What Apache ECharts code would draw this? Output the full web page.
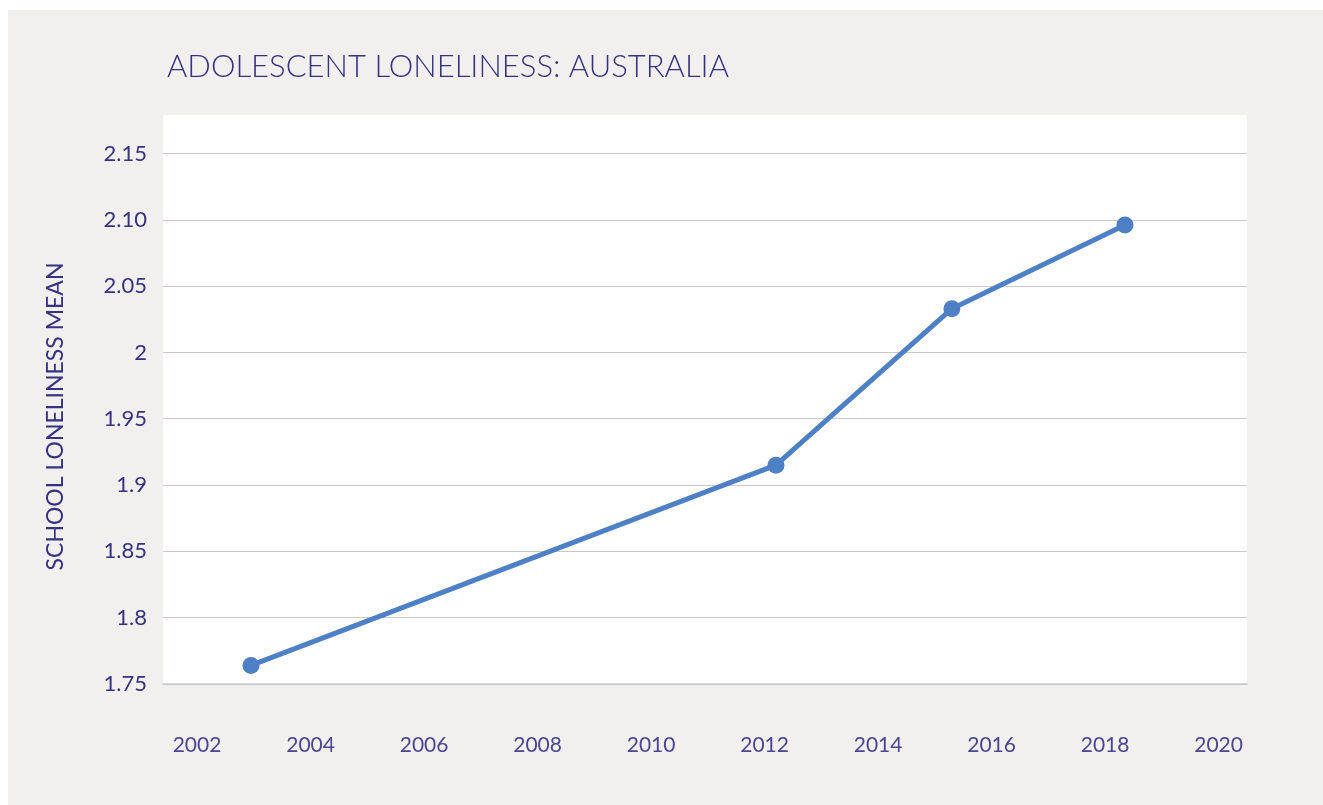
<!DOCTYPE html>
<html>
<head>
<meta charset="utf-8">
<title>Adolescent Loneliness: Australia</title>
<script src="https://cdn.jsdelivr.net/npm/echarts@6/dist/echarts.min.js"></script>
<style>
  html, body { margin: 0; padding: 0; background: #ffffff; }
  #panel {
    position: absolute; left: 8px; top: 10px;
    width: 1315px; height: 795px;
    background: #f1f0ef;
  }
</style>
</head>
<body>
<div id="panel"></div>
<script>
// Survey years (fractional positions on the time scale) and school loneliness means
const surveyYears = [2002.95, 2012.2, 2015.3, 2018.35];
const lonelinessMean = [1.764, 1.915, 2.033, 2.096];

// Tick values and their printed labels
const yearTicks = [2002, 2004, 2006, 2008, 2010, 2012, 2014, 2016, 2018, 2020];
const meanTicks = [1.75, 1.8, 1.85, 1.9, 1.95, 2, 2.05, 2.1, 2.15];
const meanTickLabels = ['1.75', '1.8', '1.85', '1.9', '1.95', '2', '2.05', '2.10', '2.15'];

const chart = echarts.init(document.getElementById('panel'), null, { renderer: 'canvas' });

const ink = '#37317f';
const labelInk = '#4d4590';

chart.setOption({
  backgroundColor: 'transparent',
  animation: false,
  title: {
    text: 'ADOLESCENT LONELINESS: AUSTRALIA',
    left: 154,
    top: 36,
    textStyle: {
      fontFamily: 'Lato',
      fontWeight: 300,
      fontSize: 31,
      color: ink
    }
  },
  grid: {
    left: 155,
    right: 76,
    top: 105,
    bottom: 121,
    show: true,
    backgroundColor: '#ffffff',
    borderWidth: 0
  },
  xAxis: {
    type: 'value',
    min: 2001.4,
    max: 2020.5,
    splitLine: { show: false },
    axisTick: { show: false },
    axisLine: { show: true, lineStyle: { color: '#c6cad3', width: 1.5 } },
    axisLabel: {
      customValues: yearTicks,
      formatter: v => String(Math.round(v)),
      margin: 51,
      fontFamily: 'Lato',
      fontSize: 21,
      color: labelInk
    }
  },
  yAxis: {
    type: 'value',
    min: 1.75,
    max: 2.179,
    name: 'SCHOOL LONELINESS MEAN',
    nameLocation: 'middle',
    nameRotate: 90,
    nameGap: 96,
    nameTextStyle: {
      fontFamily: 'Lato',
      fontWeight: 400,
      fontSize: 23,
      color: ink,
      padding: [0, 34, 0, 0]
    },
    axisLine: { show: false },
    axisTick: { show: false },
    splitLine: {
      show: true,
      showMaxLine: false,
      lineStyle: { color: '#c9c9cb', width: 1 }
    },
    interval: 0.05,
    axisLabel: {
      customValues: meanTicks,
      formatter: v => {
        const i = meanTicks.findIndex(t => Math.abs(t - v) < 1e-6);
        return i >= 0 ? meanTickLabels[i] : '';
      },
      margin: 16,
      fontFamily: 'Lato',
      fontSize: 22,
      color: ink
    }
  },
  series: [{
    type: 'line',
    data: surveyYears.map((y, i) => [y, lonelinessMean[i]]),
    symbol: 'circle',
    symbolSize: 17,
    lineStyle: { color: '#4e80c5', width: 5 },
    itemStyle: { color: '#4e80c5' }
  }]
});
</script>
</body>
</html>
